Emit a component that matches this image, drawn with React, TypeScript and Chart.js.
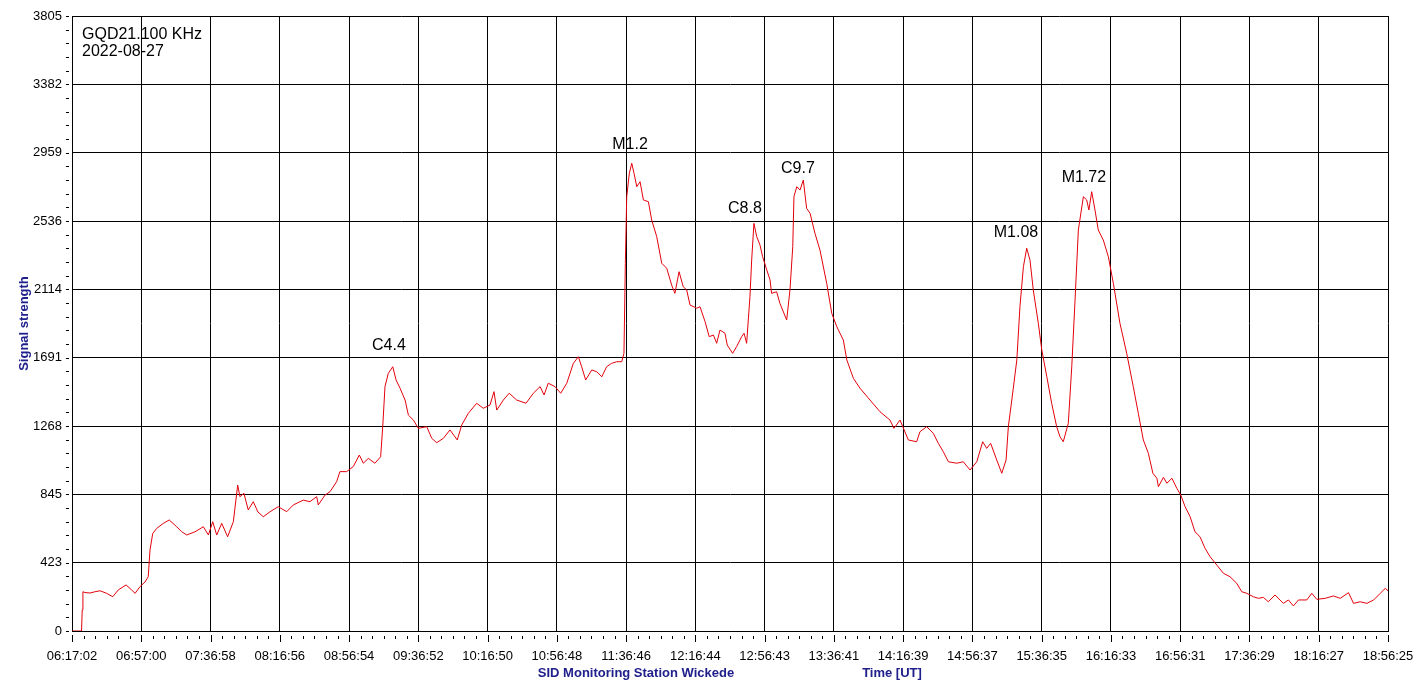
import React, { useEffect, useRef } from "react";
import { Chart, registerables } from "chart.js";

Chart.register(...registerables);

// X axis: minutes after 06:17:02 UT (span to 18:56:25)
const spanMinutes = 759.38;
const xTickLabels = [
  "06:17:02", "06:57:00", "07:36:58", "08:16:56", "08:56:54", "09:36:52", "10:16:50",
  "10:56:48", "11:36:46", "12:16:44", "12:56:43", "13:36:41", "14:16:39", "14:56:37",
  "15:36:35", "16:16:33", "16:56:31", "17:36:29", "18:16:27", "18:56:25",
];
const yTickValues = [0, 423, 845, 1268, 1691, 2114, 2536, 2959, 3382, 3805];

const timeMin = [
  0, 5.5, 5.9, 6.3, 7.5, 10.4, 13.3, 16.2, 20.0, 23.5,
  26.7, 31.2, 34.4, 36.4, 39.2, 42.1, 44.0, 45.0, 46.6, 48.9,
  52.7, 56.1, 60.4, 63.3, 66.2, 71.0, 75.8, 78.7, 81.2, 83.5,
  86.4, 89.8, 93.1, 95.6, 96.9, 99.2, 101.7, 104.6, 107.3, 110.4,
  114.3, 119.0, 123.9, 127.7, 133.5, 137.3, 141.2, 142.1, 146.0, 148.9,
  152.7, 154.6, 158.5, 162.3, 165.8, 168.1, 171.0, 174.8, 178.1, 179.3,
  180.6, 182.5, 185.1, 187.0, 189.3, 192.2, 194.1, 197.0, 199.8, 204.7,
  207.6, 210.4, 214.3, 218.1, 222.3, 224.9, 228.7, 233.5, 237.3, 241.2,
  243.5, 245.1, 248.9, 252.3, 256.6, 262.0, 266.2, 270.1, 272.4, 274.8,
  278.7, 282.0, 285.5, 289.3, 292.2, 294.1, 296.4, 299.9, 302.8, 305.7,
  308.5, 311.4, 314.3, 317.2, 318.5, 319.3, 320.1, 321.6, 323.0, 324.3,
  325.9, 327.8, 329.7, 332.6, 334.5, 337.4, 340.3, 343.2, 346.0, 347.9,
  350.3, 352.7, 354.7, 356.6, 360.5, 362.4, 365.3, 367.7, 370.1, 372.0,
  373.9, 376.8, 378.1, 381.2, 383.5, 386.4, 387.8, 389.3, 391.2, 392.2,
  393.5, 395.1, 397.0, 398.5, 400.9, 402.8, 403.7, 406.6, 408.5, 412.4,
  414.3, 415.9, 416.6, 418.2, 420.1, 422.0, 423.9, 425.9, 428.7, 431.6,
  435.5, 438.4, 441.3, 445.1, 447.1, 450.9, 454.7, 460.5, 466.2, 472.0,
  474.3, 477.8, 482.6, 487.4, 489.3, 493.2, 497.0, 499.9, 502.8, 505.7,
  510.5, 514.3, 518.2, 522.1, 525.5, 527.8, 530.1, 533.6, 536.5, 539.0,
  540.3, 542.3, 545.2, 547.0, 549.0, 550.9, 552.8, 554.7, 557.6, 559.6,
  562.5, 565.3, 568.2, 570.1, 572.0, 574.9, 576.9, 578.8, 580.7, 583.6,
  585.5, 586.8, 588.4, 590.3, 592.2, 595.1, 598.0, 600.9, 604.7, 608.6,
  612.4, 615.3, 618.2, 621.1, 623.7, 626.0, 626.9, 629.8, 631.8, 634.7,
  637.5, 639.8, 642.3, 645.2, 648.0, 650.9, 653.8, 656.7, 660.6, 664.4,
  668.2, 672.1, 675.0, 677.9, 681.7, 684.6, 687.5, 690.3, 694.2, 699.0,
  701.9, 704.8, 707.7, 712.5, 715.4, 718.3, 723.1, 727.9, 731.8, 736.6,
  739.5, 743.3, 747.2, 751.1, 754.9, 757.8, 759.4,
];

const signal = [
  0, 0, 130, 243, 238, 235, 243, 249, 233, 212,
  254, 285, 254, 233, 274, 303, 336, 501, 604, 635,
  666, 687, 645, 614, 594, 614, 645, 594, 676, 594,
  666, 583, 676, 903, 831, 852, 749, 800, 736, 707,
  738, 769, 738, 780, 810, 800, 831, 780, 841, 862,
  924, 986, 986, 1017, 1089, 1038, 1068, 1038, 1078, 1264,
  1511, 1594, 1635, 1553, 1502, 1429, 1336, 1305, 1254, 1264,
  1192, 1165, 1192, 1244, 1182, 1275, 1347, 1409, 1378, 1398,
  1481, 1367, 1429, 1471, 1429, 1409, 1471, 1512, 1460, 1533,
  1512, 1471, 1533, 1656, 1697, 1635, 1553, 1615, 1604, 1573,
  1635, 1656, 1666, 1666, 1718, 2275, 2687, 2832, 2894, 2832,
  2749, 2780, 2667, 2656, 2543, 2440, 2275, 2244, 2141, 2089,
  2223, 2130, 2110, 2017, 1997, 2006, 1914, 1821, 1831, 1780,
  1862, 1842, 1769, 1718, 1759, 1821, 1842, 1780, 2068, 2295,
  2522, 2440, 2388, 2316, 2234, 2172, 2089, 2099, 2027, 1924,
  2110, 2378, 2687, 2749, 2728, 2790, 2615, 2584, 2461, 2357,
  2151, 1966, 1883, 1800, 1677, 1563, 1502, 1429, 1357, 1305,
  1254, 1305, 1182, 1171, 1233, 1264, 1223, 1161, 1109, 1047,
  1038, 1047, 996, 1047, 1171, 1130, 1161, 1058, 976, 1058,
  1264, 1429, 1677, 2006, 2254, 2368, 2295, 2110, 1904, 1739,
  1573, 1409, 1264, 1202, 1171, 1285, 1635, 2048, 2481, 2687,
  2667, 2605, 2718, 2605, 2481, 2419, 2316, 2151, 1904, 1718,
  1511, 1347, 1182, 1099, 976, 945, 893, 951, 914, 945,
  883, 841, 769, 707, 614, 583, 512, 460, 408, 357,
  336, 295, 243, 233, 212, 202, 208, 181, 223, 171,
  192, 155, 192, 192, 233, 196, 202, 217, 202, 237,
  171, 181, 171, 192, 233, 264, 249,
];

// Flare annotations: label, anchor time (min) and level for text baseline
const flareLabels = ["C4.4", "M1.2", "C8.8", "C9.7", "M1.08", "M1.72"];
const flareTime = [182.9, 322.0, 388.3, 418.9, 544.7, 583.9];
const flareLevel = [1739, 2982, 2586, 2834, 2438, 2778];

const FONT = "'Liberation Sans', Arial, sans-serif";
const NAVY = "#20208c";

const decorPlugin = {
  id: "sidDecor",
  afterDraw(chart: any) {
    const { ctx, chartArea: area } = chart;
    const xs = chart.scales.x;
    const ys = chart.scales.y;
    ctx.save();
    ctx.strokeStyle = "#000";
    ctx.lineWidth = 1;
    ctx.beginPath();
    const step = spanMinutes / (xTickLabels.length - 1);
    for (let i = 0; i < xTickLabels.length; i++) {
      const px = Math.round(xs.getPixelForValue(i * step)) + 0.5;
      ctx.moveTo(px, area.bottom + 4);
      ctx.lineTo(px, area.bottom + 11);
      if (i < xTickLabels.length - 1) {
        for (let j = 1; j < 6; j++) {
          const mx = Math.round(xs.getPixelForValue((i + j / 6) * step)) + 0.5;
          ctx.moveTo(mx, area.bottom + 5);
          ctx.lineTo(mx, area.bottom + 8);
        }
      }
    }
    for (let i = 0; i < yTickValues.length; i++) {
      const parts = i < yTickValues.length - 1 ? 5 : 1;
      for (let j = 0; j < parts; j++) {
        const v = i < yTickValues.length - 1
          ? yTickValues[i] + (j * (yTickValues[i + 1] - yTickValues[i])) / 5
          : yTickValues[i];
        const py = Math.round(ys.getPixelForValue(v)) + 0.5;
        ctx.moveTo(area.left - 6, py);
        ctx.lineTo(area.left - 3, py);
      }
    }
    ctx.stroke();

    ctx.fillStyle = "#000";
    ctx.font = `16px ${FONT}`;
    ctx.textAlign = "center";
    ctx.textBaseline = "alphabetic";
    flareLabels.forEach((lab, i) => {
      ctx.fillText(lab, xs.getPixelForValue(flareTime[i]), ys.getPixelForValue(flareLevel[i]));
    });

    ctx.textAlign = "left";
    ctx.fillText("GQD21.100 KHz", area.left + 10, area.top + 22.5);
    ctx.fillText("2022-08-27", area.left + 10, area.top + 40);

    ctx.fillStyle = NAVY;
    ctx.font = `bold 13px ${FONT}`;
    ctx.textAlign = "center";
    ctx.fillText("SID Monitoring Station Wickede", area.left + 564, area.bottom + 46);
    ctx.fillText("Time [UT]", area.left + 820, area.bottom + 46);
    ctx.restore();
  },
};

export default function App() {
  const canvasRef = useRef<HTMLCanvasElement | null>(null);

  useEffect(() => {
    document.body.style.margin = "0";
    const canvas = canvasRef.current;
    if (!canvas) return;
    const points = timeMin.map((t, i) => ({ x: t, y: signal[i] }));
    const chart = new Chart(canvas, {
      type: "line",
      data: {
        datasets: [
          {
            data: points,
            borderColor: "#e3000b",
            borderWidth: 1,
            pointRadius: 0,
            tension: 0,
            fill: false,
          },
        ],
      },
      options: {
        animation: false,
        responsive: false,
        maintainAspectRatio: false,
        layout: { padding: { top: 16, right: 28, left: 0, bottom: 0 } },
        plugins: { legend: { display: false }, tooltip: { enabled: false } },
        scales: {
          x: {
            type: "linear",
            min: 0,
            max: spanMinutes,
            afterBuildTicks: (s: any) => {
              const step = spanMinutes / (xTickLabels.length - 1);
              s.ticks = xTickLabels.map((_, i) => ({ value: i * step }));
            },
            afterFit: (s: any) => {
              s.height = 56;
              s.paddingLeft = 0;
              s.paddingRight = 0;
            },
            ticks: {
              autoSkip: false,
              maxRotation: 0,
              padding: 18,
              color: "#000",
              font: { family: FONT, size: 13 },
              callback: (_v: any, i: number) => xTickLabels[i],
            },
            grid: { color: "#000", lineWidth: 1, drawTicks: false },
            border: { color: "#000", width: 1 },
          },
          y: {
            type: "linear",
            min: 0,
            max: 3805,
            afterBuildTicks: (s: any) => {
              s.ticks = yTickValues.map((v) => ({ value: v }));
            },
            afterFit: (s: any) => {
              s.width = 72;
              s.paddingTop = 0;
              s.paddingBottom = 0;
            },
            ticks: {
              padding: 10,
              color: "#000",
              font: { family: FONT, size: 13 },
              callback: (v: any) => String(v),
            },
            grid: { color: "#000", lineWidth: 1, drawTicks: false },
            border: { color: "#000", width: 1 },
            title: {
              display: true,
              text: "Signal strength",
              color: NAVY,
              font: { family: FONT, size: 13, weight: "bold" },
              padding: { top: 17, bottom: 0 },
            },
          },
        },
      },
      plugins: [decorPlugin],
    });
    return () => chart.destroy();
  }, []);

  return (
    <div style={{ width: 1416, height: 687, background: "#fff" }}>
      <canvas ref={canvasRef} width={1416} height={687} style={{ display: "block" }} />
    </div>
  );
}
